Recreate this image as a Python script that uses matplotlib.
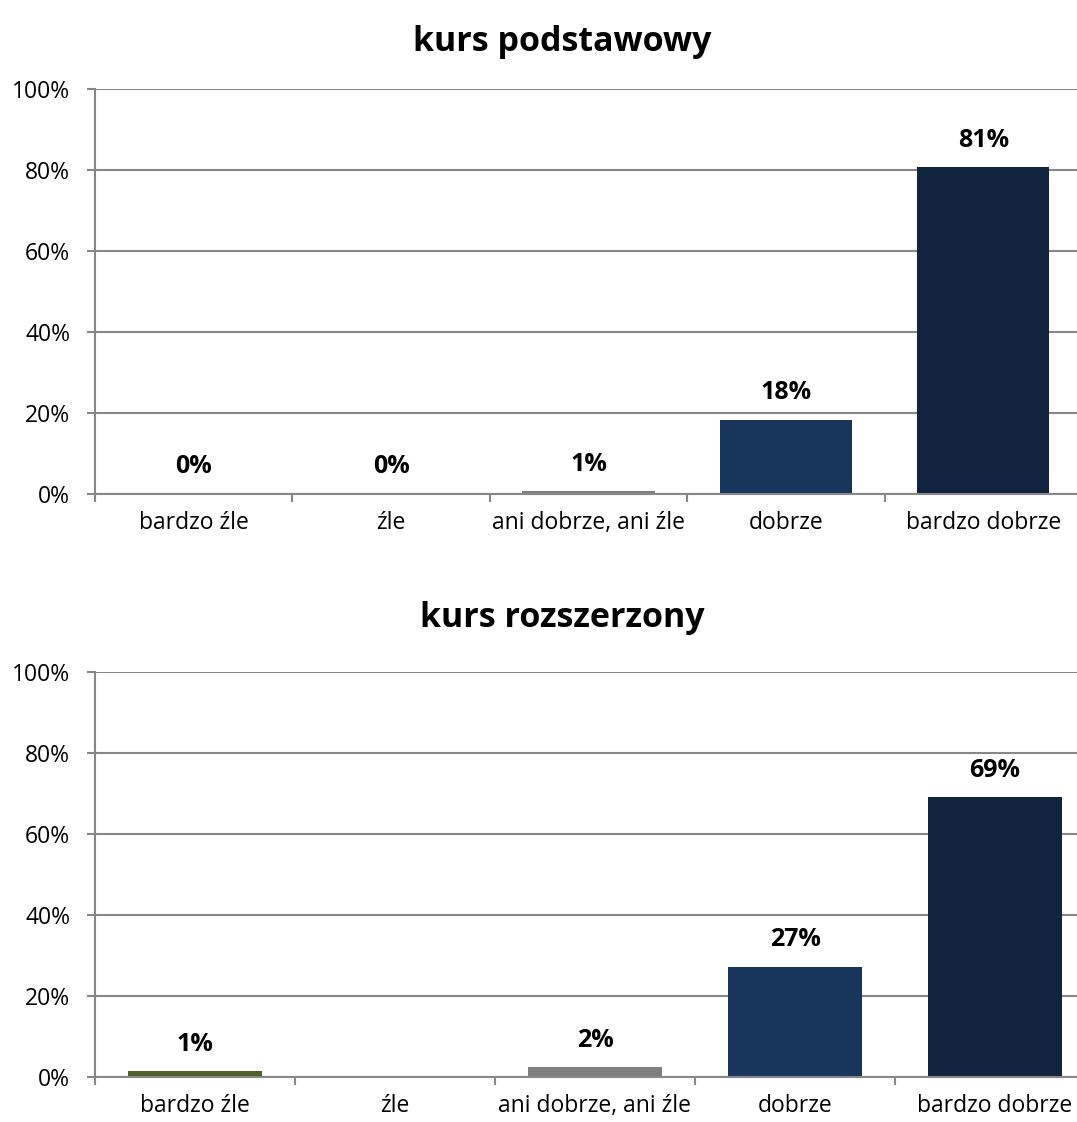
import numpy as np
import matplotlib
matplotlib.use("Agg")
import matplotlib.pyplot as plt

plt.rcParams['font.family'] = ['Open Sans', 'DejaVu Sans']

categories = ["bardzo źle", "źle", "ani dobrze, ani źle", "dobrze", "bardzo dobrze"]
bar_colors = ["#4F6228", "#7F7F7F", "#7F7F7F", "#18365D", "#11243F"]

# Percent of answers; None means no bar and no label
podstawowy = [0.0, 0.0, 0.7, 18.3, 80.7]
rozszerzony = [1.4, None, 2.4, 27.2, 69.1]

titles = ["kurs podstawowy", "kurs rozszerzony"]
series = [podstawowy, rozszerzony]

y_ticks = [0, 20, 40, 60, 80, 100]
y_tick_labels = ["0%", "20%", "40%", "60%", "80%", "100%"]

W, H = 1077, 1122
fig = plt.figure(figsize=(W / 100, H / 100), dpi=100)

grid_col = "#878787"
# axes boxes in pixels: left, top(100%), bottom(0%), width
boxes = [(95, 89, 494, 987), (95, 672, 1077, 1000)]
title_y = [42, 618]

for box, vals, title, ty in zip(boxes, series, titles, title_y):
    left, top, bottom, width = box
    ax = fig.add_axes([left / W, 1 - bottom / H, width / W, (bottom - top) / H])
    x = np.arange(len(categories))
    for xi, v, c in zip(x, vals, bar_colors):
        if v is None:
            continue
        ax.bar(xi, v, width=0.67, color=c, zorder=3)
        ax.annotate(f"{v:.0f}%", (xi, v), xytext=(0, 19.5), textcoords="offset points",
                    ha="center", va="center", fontsize=18, fontweight="bold",
                    color="black", zorder=4)
    ax.set_xlim(-0.5, len(categories) - 0.5)
    ax.set_ylim(0, 100)
    ax.set_yticks(y_ticks)
    ax.set_yticklabels(y_tick_labels)
    ax.set_xticks(x)
    ax.set_xticklabels(categories)
    ax.set_xticks(np.arange(len(categories) + 1) - 0.5, minor=True)
    ax.tick_params(axis="x", which="major", length=0, pad=12, labelsize=16.5)
    ax.tick_params(axis="x", which="minor", length=6, width=1.5, color=grid_col, direction="out")
    ax.tick_params(axis="y", which="major", length=6, width=1.5, color=grid_col, pad=12, labelsize=16.5)
    ax.grid(axis="y", color=grid_col, linewidth=1.5, zorder=1)
    ax.set_axisbelow(True)
    for s in ["top", "right"]:
        ax.spines[s].set_visible(False)
    for s in ["left", "bottom"]:
        ax.spines[s].set_color(grid_col)
        ax.spines[s].set_linewidth(1.5)
    ax.spines["bottom"].set_zorder(5)
    fig.text(562 / W, 1 - ty / H, title, ha="center", va="center",
             fontsize=24.5, fontweight="bold", color="black")

fig.savefig("out.png", dpi=100, facecolor="white")
